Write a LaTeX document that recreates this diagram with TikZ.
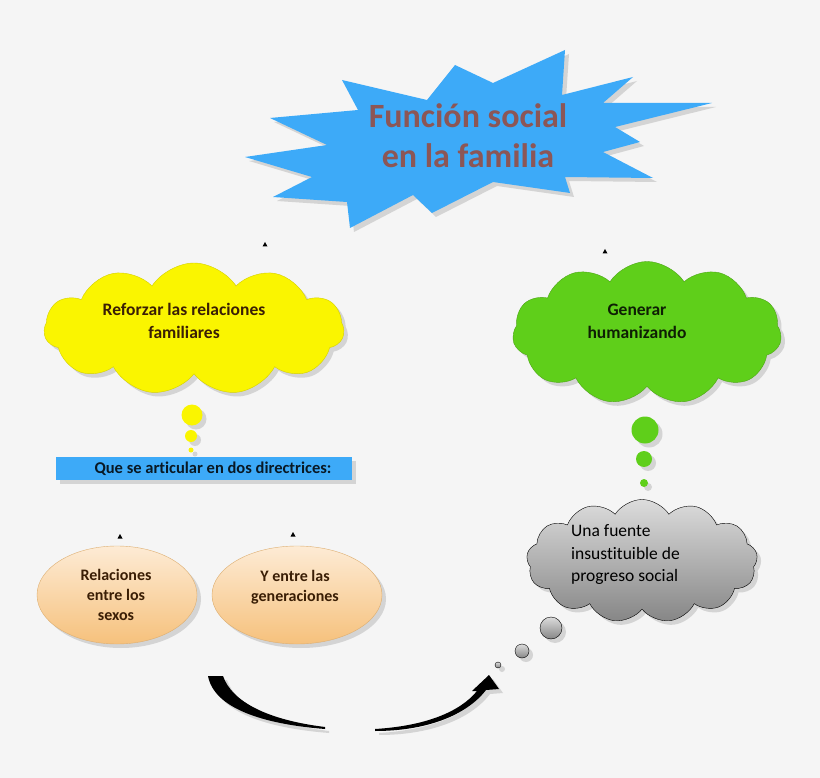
\documentclass[tikz,border=0pt]{standalone}
\usepackage{fontspec}
\setmainfont{Carlito}[Ligatures=CommonOff]
\usepackage{xcolor}
\usetikzlibrary{shapes.symbols, shapes.geometric, shadows, arrows.meta}

\definecolor{fondo}{HTML}{F5F5F5}
\definecolor{azul}{HTML}{3DAAF8}
\definecolor{titulo}{HTML}{8C5656}
\definecolor{amarillo}{HTML}{FAF500}
\definecolor{verde}{HTML}{5FCF1A}
\definecolor{marron}{HTML}{3A1E05}
\definecolor{durazno1}{HTML}{FDEBD5}
\definecolor{durazno2}{HTML}{F6C17C}
\definecolor{gris1}{HTML}{DCDCDC}
\definecolor{gris2}{HTML}{868686}

\begin{document}
\begin{tikzpicture}[x=1pt, y=-1pt,
  every node/.style={inner sep=0pt, align=center},
  sombra/.style={drop shadow={opacity=0.28, shadow xshift=4pt, shadow yshift=-4pt}},
  nube/.style={cloud, cloud puffs=#1, cloud puff arc=115, cloud ignores aspect, sombra},
  elipse/.style={ellipse, draw=durazno2!90!black, top color=durazno1, bottom color=durazno2, minimum width=#1, minimum height=98pt, sombra},
  barra/.style={rectangle, fill=azul, minimum width=296pt, minimum height=23pt, sombra},
  texto/.style={font=\bfseries\fontsize{17.5}{23}\selectfont, text=marron},
  chico/.style={font=\bfseries\fontsize{16}{20}\selectfont, text=marron}
]
\fill[fondo] (0,0) rectangle (820,778);

% estrella del titulo
\fill[azul, sombra] (245,157) -- (327,145) -- (270,118) -- (358,110) -- (342,80)
  -- (427,100) -- (455,65) -- (493,83) -- (565,50) -- (562,95) -- (633,77)
  -- (603,103) -- (712,103) -- (615,127) -- (640,142) -- (603,152) -- (653,178)
  -- (565,177) -- (570,193) -- (493,182) -- (432,213) -- (413,195) -- (350,228)
  -- (347,202) -- (273,197) -- (312,177) -- cycle;
\node[font=\bfseries\fontsize{34}{40}\selectfont, text=titulo] (funcion) at (468,136) {Función social\\en la familia};

% nubes
\node[nube=11, fill=amarillo, draw=amarillo!85!black, minimum width=300pt, minimum height=132pt] (reforzar) at (194,329) {};
\node[texto] (reforzarTxt) at (184,321) {Reforzar las relaciones\\familiares};
\foreach \x/\y/\r in {192/415/10.5, 191/436/6, 191/450/2.5}
  \fill[amarillo, sombra] (\x,\y) circle (\r pt);

\node[nube=11, fill=verde, draw=verde!80!black, minimum width=269pt, minimum height=143pt] (generar) at (647,333) {};
\node[texto, text=black!85!verde] (generarTxt) at (637,321) {Generar\\humanizando};
\foreach \x/\y/\r in {645/430/13.5, 644/459/8, 644/483/4}
  \fill[verde, sombra] (\x,\y) circle (\r pt);

\node[nube=13, draw=black, top color=gris1, bottom color=gris2, minimum width=231pt, minimum height=123pt] (fuente) at (642,561) {};
\node[font=\fontsize{17.5}{22.5}\selectfont, align=left, anchor=west] (fuenteTxt) at (571,555) {Una fuente\\insustituible de\\progreso social};
\foreach \x/\y/\r in {551/628/11, 522/651/7, 498/665/3}
  \draw[black, top color=gris1, bottom color=gris2, sombra] (\x,\y) circle (\r pt);

% barra y elipses
\node[barra] (directrices) at (204,468.5) {};
\node[chico, font=\bfseries\fontsize{16.5}{20}\selectfont, text=black!85!azul] (directricesTxt) at (213,469) {Que se articular en dos directrices:};

\node[elipse=160pt] (sexos) at (117,595) {};
\node[chico] (sexosTxt) at (116,595) {Relaciones\\entre los\\sexos};
\node[elipse=170pt] (generaciones) at (297,595) {};
\node[chico] (generacionesTxt) at (295,587) {Y entre las\\generaciones};

% puntas sueltas
\foreach \x/\y in {265/245, 605/252, 120/537, 293/535}
  \fill (\x,\y) ++(-2.5,1.5) -- ++(2.5,-4.5) -- ++(2.5,4.5) -- cycle;

% flecha curva
\coordinate (inicio) at (215,676);
\coordinate (fin) at (489,675);
\fill[black, sombra] ([xshift=-7pt]inicio) .. controls (214,708) and (262,724) .. (325,729)
  -- (325,727) .. controls (268,720) and (232,702) .. ([xshift=8pt]inicio) -- cycle;
\fill[black, sombra] (375,729) .. controls (425,726) and (460,712) .. (477,691)
  -- (472,691) -- (fin) -- (499,689) -- (486,690)
  .. controls (466,716) and (425,731) .. (375,731) -- cycle;
\end{tikzpicture}
\end{document}
